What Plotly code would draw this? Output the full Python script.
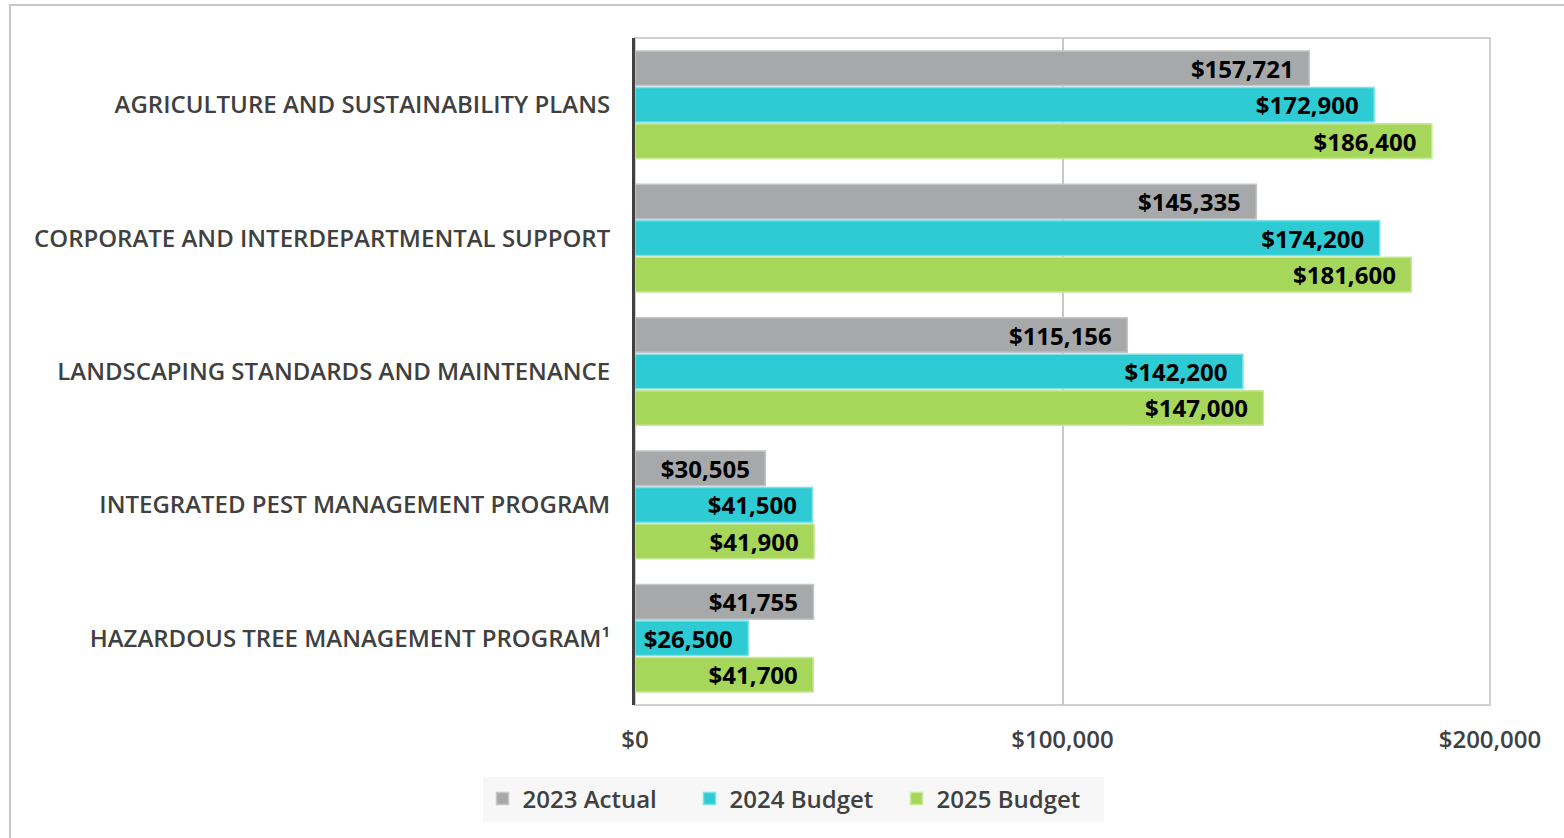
import plotly.graph_objects as go

categories = [
    "AGRICULTURE AND SUSTAINABILITY PLANS",
    "CORPORATE AND INTERDEPARTMENTAL SUPPORT",
    "LANDSCAPING STANDARDS AND MAINTENANCE",
    "INTEGRATED PEST MANAGEMENT PROGRAM",
    "HAZARDOUS TREE MANAGEMENT PROGRAM¹",
]
series_names = ["2023 Actual", "2024 Budget", "2025 Budget"]
actual_2023 = [157721, 145335, 115156, 30505, 41755]
budget_2024 = [172900, 174200, 142200, 41500, 26500]
budget_2025 = [186400, 181600, 147000, 41900, 41700]
tick_vals = [0, 100000, 200000]
tick_text = ["$0", "$100,000", "$200,000"]

colors = ["#a7a8aa", "#2ecbd4", "#a6d75b"]
edge = ["#c4c5c7", "#7fe0e5", "#c8e89a"]

FONT = "Open Sans"
PAD = "\u00a0\u00a0"
fig = go.Figure()
for name, vals, c, e in zip(series_names, [actual_2023, budget_2024, budget_2025], colors, edge):
    fig.add_trace(go.Bar(
        name=name, y=categories, x=vals, orientation="h",
        marker=dict(color=c, line=dict(color=e, width=1.5)),
        text=[f"${v:,}{PAD}" for v in vals],
        textposition="inside", insidetextanchor="end",
        textfont=dict(family=FONT, size=24, color="#000000", weight="bold"),
        constraintext="none", cliponaxis=False,
    ))

W, H = 1564, 838
L, T = 635, 38
PR, PB = 1490, 705
R, B = W - PR, H - PB
pw, ph = PR - L, PB - T

def px(x):
    return (x - L) / pw

def py(y):
    return (PB - y) / ph

fig.update_layout(
    width=W, height=H,
    margin=dict(l=L, r=R, t=T, b=B),
    barmode="group", bargap=0.18, bargroupgap=0.05,
    plot_bgcolor="white", paper_bgcolor="white",
    font=dict(family=FONT, color="#404040"),
    showlegend=True,
    legend=dict(
        orientation="h", x=px(793), y=py(799), xanchor="center", yanchor="middle",
        bgcolor="#f7f7f7", font=dict(family=FONT, size=24, color="#404040", weight=600),
        traceorder="normal", entrywidth=162, itemwidth=30,
    ),
    xaxis=dict(
        range=[0, 200000], tickvals=tick_vals, ticktext=tick_text,
        showgrid=True, gridcolor="#c8c8c8", gridwidth=1.5,
        zeroline=False, showline=False,
        tickfont=dict(family=FONT, size=24, color="#404040", weight=600),
        ticklabelstandoff=18,
    ),
    yaxis=dict(
        autorange="reversed", showgrid=False, zeroline=False,
        showline=True, linecolor="#404040", linewidth=3,
        tickfont=dict(family=FONT, size=24, color="#404040", weight=600),
        ticklabelstandoff=17,
    ),
    shapes=[
        dict(type="rect", xref="paper", yref="paper", x0=0, x1=1, y0=0, y1=1,
             line=dict(color="#d0d0d0", width=2), layer="below"),
        dict(type="rect", xref="paper", yref="paper",
             x0=px(10), x1=px(1575), y0=py(845), y1=py(5),
             line=dict(color="#c8c8c8", width=2), layer="below"),
    ],
)

fig.write_html("out.html", config={"displayModeBar": False},
               post_script="document.body.style.margin='0';document.body.style.overflow='hidden';")
